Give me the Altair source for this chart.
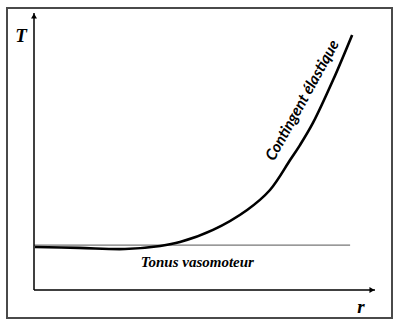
import altair as alt
import pandas as pd

# curve (r, T) in data units
curve_r = [0.03, 1.32, 2.67, 3.70, 4.28, 5.25, 6.25, 6.92, 7.51, 7.80, 8.18, 8.77, 9.33]
curve_T = [1.55, 1.52, 1.48, 1.59, 1.73, 2.17, 2.89, 3.61, 4.69, 5.23, 6.03, 7.58, 9.21]

# tonus baseline
tonus_r = [0.0, 9.27]
tonus_T = [1.62, 1.62]

# axes
axis_x0 = [0.0, 0.0]
axis_y0 = [0.0, 0.0]
axis_x1 = [0.0, 10.0]
axis_y1 = [10.0, 0.0]

labels_text = ["Tonus vasomoteur"]
labels_r = [4.79]
labels_T = [0.83]

elastic_text = ["Contingent élastique"]
elastic_r = [7.87]
elastic_T = [6.85]

axis_titles = ["T", "r"]
axis_titles_r = [-0.38, 9.59]
axis_titles_T = [9.17, -0.61]

xs = alt.Scale(domain=[0, 10], nice=False, zero=False)
ys = alt.Scale(domain=[0, 10], nice=False, zero=False)

df_curve = pd.DataFrame({"r": curve_r, "T": curve_T, "o": list(range(len(curve_r)))})
df_tonus = pd.DataFrame({"r": tonus_r, "T": tonus_T})
df_axes = pd.DataFrame({"x": axis_x0, "y": axis_y0, "x2": axis_x1, "y2": axis_y1})
df_lab = pd.DataFrame({"r": labels_r, "T": labels_T, "t": labels_text})
df_el = pd.DataFrame({"r": elastic_r, "T": elastic_T, "t": elastic_text})
df_ax = pd.DataFrame({"r": axis_titles_r, "T": axis_titles_T, "t": axis_titles})
df_arrow_up = pd.DataFrame({"r": [0.0], "T": [10.0]})
df_arrow_right = pd.DataFrame({"r": [10.0], "T": [0.0]})

frame = alt.Chart(pd.DataFrame({"a": [0]})).mark_rect(
    fill=None, stroke="#4a4a4a", strokeWidth=2
).encode(x=alt.value(-27), x2=alt.value(358), y=alt.value(-5), y2=alt.value(305))

axes = alt.Chart(df_axes).mark_rule(color="black", strokeWidth=1.5).encode(
    x=alt.X("x:Q", scale=xs, axis=None),
    y=alt.Y("y:Q", scale=ys, axis=None),
    x2="x2:Q",
    y2="y2:Q",
)

arrow_up = alt.Chart(df_arrow_up).mark_point(
    shape="triangle-up", filled=True, color="black", size=35, opacity=1, yOffset=3
).encode(x=alt.X("r:Q", scale=xs, axis=None), y=alt.Y("T:Q", scale=ys, axis=None))

arrow_right = alt.Chart(df_arrow_right).mark_point(
    shape="triangle-right", filled=True, color="black", size=35, opacity=1, xOffset=-3
).encode(x=alt.X("r:Q", scale=xs, axis=None), y=alt.Y("T:Q", scale=ys, axis=None))

tonus = alt.Chart(df_tonus).mark_line(color="#777777", strokeWidth=1.4).encode(
    x=alt.X("r:Q", scale=xs, axis=None), y=alt.Y("T:Q", scale=ys, axis=None)
)

curve = alt.Chart(df_curve).mark_line(
    color="black", strokeWidth=2.6, interpolate="catmull-rom"
).encode(
    x=alt.X("r:Q", scale=xs, axis=None),
    y=alt.Y("T:Q", scale=ys, axis=None),
    order="o:Q",
)

lab = alt.Chart(df_lab).mark_text(
    font="Liberation Serif", fontSize=15, fontWeight="bold", fontStyle="italic",
    align="center", baseline="alphabetic", color="black"
).encode(x=alt.X("r:Q", scale=xs, axis=None), y=alt.Y("T:Q", scale=ys, axis=None), text="t:N")

el = alt.Chart(df_el).mark_text(
    font="Lato", fontSize=15.5, fontWeight="bold", fontStyle="italic", angle=299,
    align="center", baseline="middle", color="black"
).encode(x=alt.X("r:Q", scale=xs, axis=None), y=alt.Y("T:Q", scale=ys, axis=None), text="t:N")

ax = alt.Chart(df_ax).mark_text(
    font="Liberation Serif", fontSize=19, fontWeight="bold", fontStyle="italic",
    align="center", baseline="middle", color="black"
).encode(x=alt.X("r:Q", scale=xs, axis=None), y=alt.Y("T:Q", scale=ys, axis=None), text="t:N")

chart = alt.layer(frame, tonus, curve, axes, arrow_up, arrow_right, lab, el, ax).properties(
    width=341, height=277,
    padding={"left": 34, "top": 13, "right": 24, "bottom": 35},
    autosize=alt.AutoSizeParams(type="none"),
    background="white",
).configure_view(stroke=None)

chart.save("out.html", embed_options={"renderer": "svg", "actions": False})
